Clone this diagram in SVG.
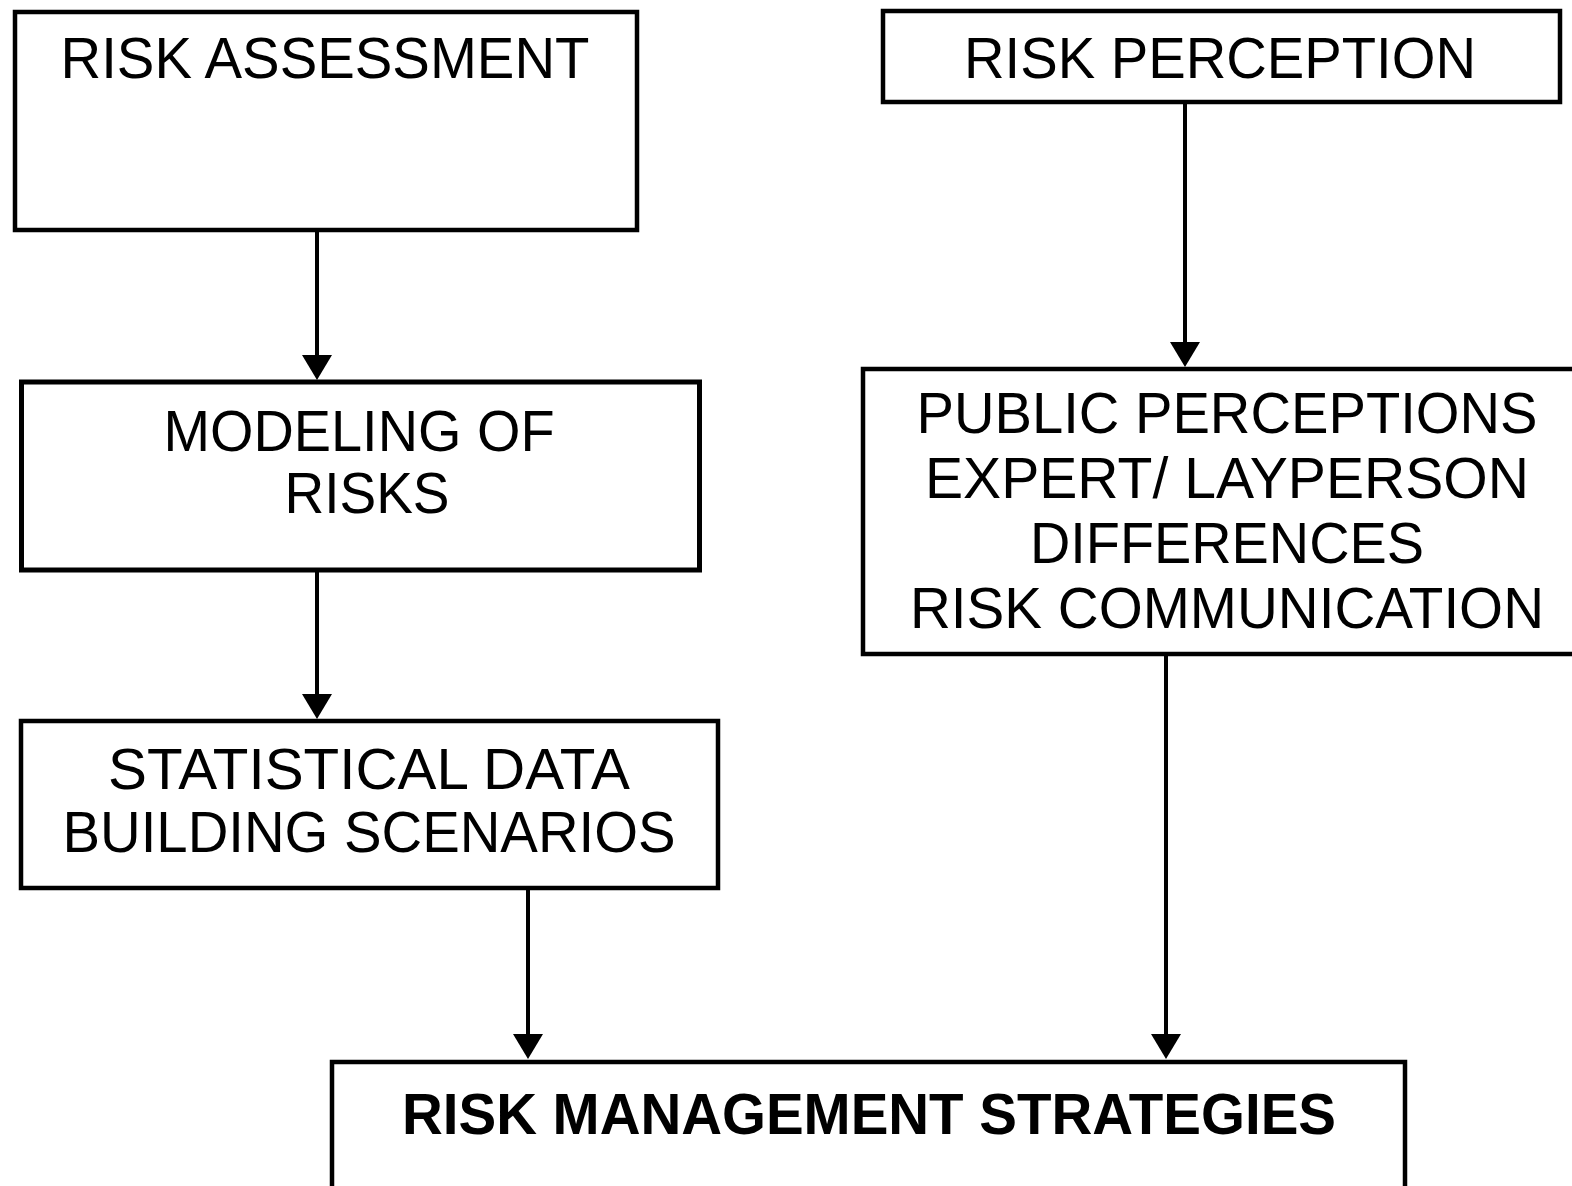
<svg xmlns="http://www.w3.org/2000/svg" width="1572" height="1186" viewBox="0 0 1572 1186">
<style>
.box{fill:#fff;stroke:#000;stroke-width:4.5}
.t{font-family:"Liberation Sans",Arial,sans-serif;font-size:58px;fill:#000;text-anchor:middle}
.b{font-weight:bold;font-size:57px}
.c{fill:none;stroke:#000;stroke-width:4;marker-end:url(#ah)}
</style>
<defs>
<marker id="ah" markerUnits="userSpaceOnUse" markerWidth="26" markerHeight="32" viewBox="0 0 26 32" refX="14" refY="16" orient="auto">
<path d="M0,1 L25,16 L0,31 Z" fill="#000"/>
</marker>
</defs>
<rect width="1572" height="1186" fill="#fff"/>
<g id="connectors">
<line class="c" x1="317" y1="232" x2="317" y2="369"/>
<line class="c" x1="317" y1="572" x2="317" y2="708"/>
<line class="c" x1="1185" y1="103" x2="1185" y2="356"/>
<line class="c" x1="528" y1="890" x2="528" y2="1048"/>
<line class="c" x1="1166" y1="656" x2="1166" y2="1048"/>
</g>
<g id="risk-assessment">
<rect class="box" x="15" y="12" width="622" height="218"/>
<text class="t" x="325" y="78" textLength="529" lengthAdjust="spacingAndGlyphs">RISK ASSESSMENT</text>
</g>
<g id="risk-perception">
<rect class="box" x="883" y="11" width="677" height="91"/>
<text class="t" x="1220" y="78" textLength="512" lengthAdjust="spacingAndGlyphs">RISK PERCEPTION</text>
</g>
<g id="modeling">
<rect class="box" x="21.5" y="382" width="678" height="188" style="stroke-width:5"/>
<text class="t" x="359" y="451" textLength="391" lengthAdjust="spacingAndGlyphs">MODELING OF</text>
<text class="t" x="367" y="513" textLength="165" lengthAdjust="spacingAndGlyphs">RISKS</text>
</g>
<g id="public">
<rect class="box" x="863" y="369" width="720" height="285"/>
<text class="t" x="1227" y="433" textLength="621" lengthAdjust="spacingAndGlyphs">PUBLIC PERCEPTIONS</text>
<text class="t" x="1227" y="498" textLength="604" lengthAdjust="spacingAndGlyphs">EXPERT/ LAYPERSON</text>
<text class="t" x="1227" y="563" textLength="394" lengthAdjust="spacingAndGlyphs">DIFFERENCES</text>
<text class="t" x="1227" y="628" textLength="634" lengthAdjust="spacingAndGlyphs">RISK COMMUNICATION</text>
</g>
<g id="statistical">
<rect class="box" x="21" y="721" width="697" height="167"/>
<text class="t" x="369" y="789" textLength="522" lengthAdjust="spacingAndGlyphs">STATISTICAL DATA</text>
<text class="t" x="369" y="852" textLength="613" lengthAdjust="spacingAndGlyphs">BUILDING SCENARIOS</text>
</g>
<g id="management">
<rect class="box" x="332" y="1062" width="1073" height="150"/>
<text class="t b" x="869" y="1134" textLength="934" lengthAdjust="spacingAndGlyphs">RISK MANAGEMENT STRATEGIES</text>
</g>
</svg>
